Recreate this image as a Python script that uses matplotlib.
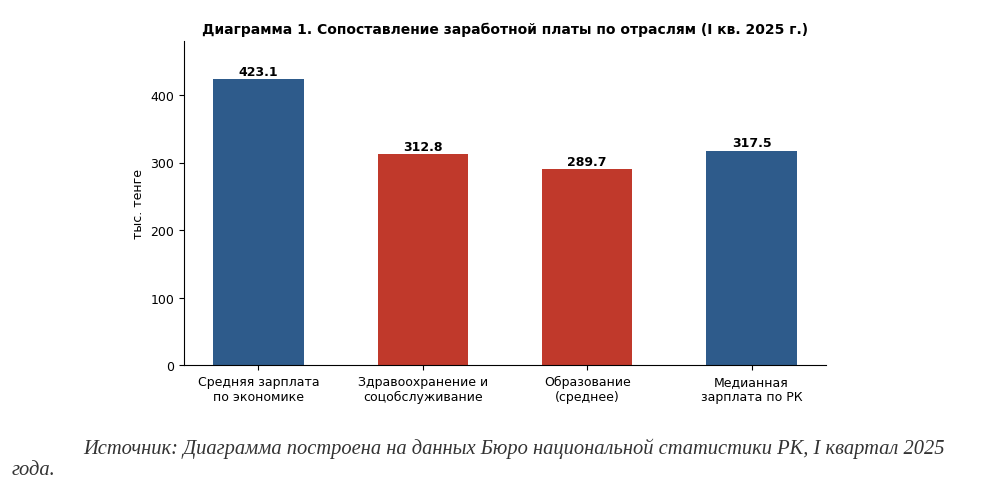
import matplotlib
matplotlib.use('Agg')
import matplotlib.pyplot as plt

# Data
categories = ['Средняя зарплата\nпо экономике', 'Здравоохранение и\nсоцобслуживание',
              'Образование\n(среднее)', 'Медианная\nзарплата по РК']
values = [423.1, 312.8, 289.7, 317.5]
colors = ['#2E5B8B', '#C0392B', '#C0392B', '#2E5B8B']

fig = plt.figure(figsize=(9.85, 4.81), dpi=100)
ax = fig.add_axes([184 / 985, 1 - 366 / 481, (826 - 184) / 985, (366 - 42) / 481])

bars = ax.bar(range(len(values)), values, width=0.55, color=colors)
for b, v in zip(bars, values):
    ax.text(b.get_x() + b.get_width() / 2, v + 2, f'{v:.1f}',
            ha='center', va='bottom', fontsize=9, fontweight='bold')

ax.set_xticks(range(len(categories)))
ax.set_xticklabels(categories, fontsize=9)
ax.tick_params(axis='y', labelsize=9)
ax.set_ylim(0, 480)
ax.set_yticks([0, 100, 200, 300, 400])
ax.set_ylabel('тыс. тенге', fontsize=9)
ax.set_title('Диаграмма 1. Сопоставление заработной платы по отраслям (I кв. 2025 г.)',
             fontsize=10, fontweight='bold', pad=6)
ax.spines['top'].set_visible(False)
ax.spines['right'].set_visible(False)

# Source caption
fig.text(83 / 985, 1 - 449 / 481, 'Источник: Диаграмма построена на данных Бюро национальной '
         'статистики РК, I квартал 2025', family='Liberation Serif', style='italic',
         fontsize=14.8, color='#333333', va='center')
fig.text(12 / 985, 1 - 471 / 481, 'года.', family='Liberation Serif', style='italic',
         fontsize=14.8, color='#333333', va='center')

fig.savefig('out.png', dpi=100)
